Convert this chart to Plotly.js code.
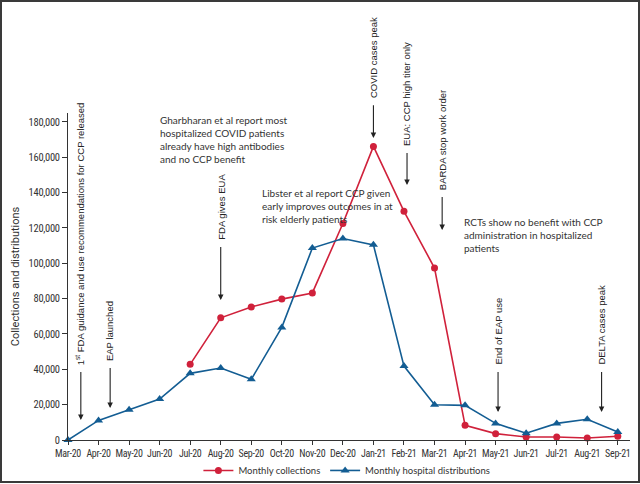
<!DOCTYPE html>
<html>
<head>
<meta charset="utf-8">
<script src="https://cdn.plot.ly/plotly-3.0.1.min.js"></script>
<style>
  html, body { margin: 0; padding: 0; background: #fff; }
  #wrap { position: relative; width: 640px; height: 484px; }
  #chart { width: 640px; height: 484px; }
  #frame { position: absolute; left: 0; top: 0; width: 636px; height: 479px; border: 2px solid #3a3a3a; pointer-events: none; }
  .xtick text, .ytick text { font-stretch: 75%; letter-spacing: -0.3px; }
</style>
</head>
<body>
<div id="wrap"><div id="chart"></div><div id="frame"></div></div>
<script>
const months = ["Mar-20","Apr-20","May-20","Jun-20","Jul-20","Aug-20","Sep-20","Oct-20","Nov-20","Dec-20","Jan-21","Feb-21","Mar-21","Apr-21","May-21","Jun-21","Jul-21","Aug-21","Sep-21"];
const collections = [null,null,null,null,42800,69100,75300,79700,83200,122500,166100,129400,97300,8300,3600,1700,1700,1100,2100];
const distributions = [0,11100,17100,23200,37700,40700,34300,63700,108600,114000,110400,41800,19900,19600,9400,3800,9400,11700,4500];
const yTicks = [0,20000,40000,60000,80000,100000,120000,140000,160000,180000];
const yMax = 185000;

// event markers: [month position, text bottom (value units), arrow tip (value units), label]
const events = [
  [0.42, 41300, 11300, "1<sup>st</sup> FDA guidance and use recommendations for CCP released"],
  [1.38, 43600, 18100, "EAP launched"],
  [5.0, 112000, 79200, "FDA gives EUA"],
  [10.0, 192300, 170800, "COVID cases peak"],
  [11.1, 165200, 144300, "EUA: CCP high titer only"],
  [12.25, 140300, 118800, "BARDA stop work order"],
  [14.08, 41300, 15800, "End of EAP use"],
  [17.47, 41300, 15800, "DELTA cases peak"]
];
// text notes: [month position (left edge), top (value units), text]
const notes = [
  [2.94, 185500, "Gharbharan et al report most<br>hospitalized COVID patients<br>already have high antibodies<br>and no CCP benefit"],
  [6.29, 144300, "Libster et al report CCP given<br>early improves outcomes in at<br>risk elderly patients"],
  [12.89, 127900, "RCTs show no benefit with CCP<br>administration in hospitalized<br>patients"]
];

const red = "#d0213b";
const blue = "#135d93";
const tickFamily = "Roboto, 'Liberation Sans', sans-serif";
const annFont = "'Liberation Sans', Arial, sans-serif";
const noteFont = "Lato, 'Noto Sans', sans-serif";

const xIdx = months.map((m, i) => i);

const traces = [
  {
    x: xIdx, y: collections, name: "Monthly collections", type: "scatter", mode: "lines+markers",
    line: {color: red, width: 1.6}, marker: {color: red, size: 7, symbol: "circle"},
    cliponaxis: false, connectgaps: false, legend: "legend"
  },
  {
    x: xIdx, y: distributions, name: "Monthly hospital distributions", type: "scatter", mode: "lines+markers",
    line: {color: blue, width: 1.6}, marker: {color: blue, size: 8, symbol: "triangle-up"},
    cliponaxis: false, legend: "legend2"
  }
];

const annotations = [];
events.forEach(e => {
  annotations.push({
    x: e[0], y: e[1] / yMax, xref: "x", yref: "paper", text: e[3], textangle: -90,
    showarrow: false, xanchor: "center", yanchor: "bottom",
    font: {family: annFont, size: 9.5, color: "#222"}
  });
  annotations.push({
    x: e[0], y: e[2] / yMax, xref: "x", yref: "paper", axref: "x", ayref: "paper",
    ax: e[0], ay: (e[1] - 2000) / yMax, text: "", showarrow: true,
    arrowhead: 2, arrowsize: 1, arrowwidth: 1.1, arrowcolor: "#222"
  });
});
notes.forEach(n => {
  annotations.push({
    x: n[0], y: n[1] / yMax, xref: "x", yref: "paper", text: n[2], showarrow: false,
    xanchor: "left", yanchor: "top", align: "left",
    font: {family: noteFont, size: 10, color: "#333"}
  });
});
annotations.push({
  x: -0.093, y: 0.5, xref: "paper", yref: "paper", text: "Collections and distributions",
  textangle: -90, showarrow: false, xanchor: "center", yanchor: "middle",
  font: {family: tickFamily, size: 11, color: "#333"}
});

const legendBase = {
  orientation: "h", xref: "container", yref: "container",
  xanchor: "left", y: 0.028, yanchor: "middle",
  font: {family: noteFont, size: 9.5, color: "#333"}, bgcolor: "rgba(0,0,0,0)"
};

const layout = {
  width: 640, height: 484,
  margin: {l: 68, r: 10, t: 113, b: 44},
  paper_bgcolor: "#fff", plot_bgcolor: "#fff",
  showlegend: true,
  legend: Object.assign({}, legendBase, {x: 0.31}),
  legend2: Object.assign({}, legendBase, {x: 0.508}),
  xaxis: {
    range: [0, 18.4], tickmode: "array", tickvals: xIdx, ticktext: months, automargin: false,
    showgrid: false, zeroline: false, showline: true, linecolor: "#333", linewidth: 1.2,
    ticks: "outside", ticklen: 4, tickcolor: "#333",
    tickfont: {family: tickFamily, size: 10, color: "#333"}, tickangle: 0
  },
  yaxis: {
    range: [0, yMax], tickmode: "array", tickvals: yTicks, tickformat: ",", automargin: false,
    showgrid: false, zeroline: false, showline: true, linecolor: "#333", linewidth: 1.2,
    ticks: "outside", ticklen: 5, tickcolor: "#333",
    tickfont: {family: tickFamily, size: 10.5, color: "#333"}
  },
  annotations: annotations
};

Plotly.newPlot("chart", traces, layout, {displayModeBar: false, staticPlot: true});
</script>
</body>
</html>
